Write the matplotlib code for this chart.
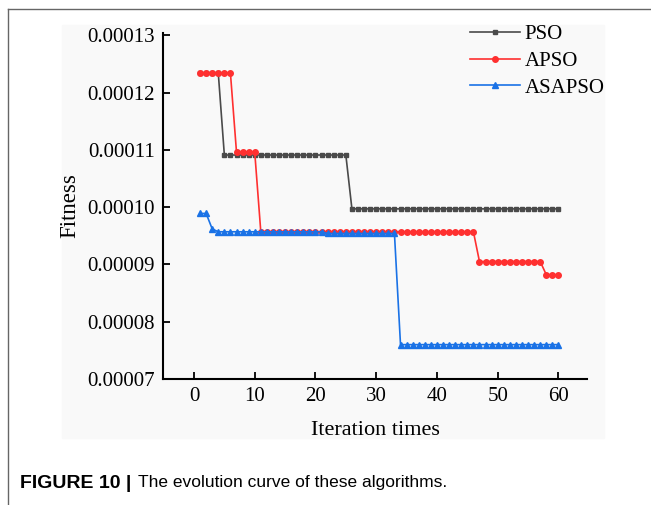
import matplotlib.pyplot as plt
from matplotlib.lines import Line2D
from matplotlib.patches import Rectangle

ITERATIONS = list(range(1, 61))

# fitness values, one per iteration (x 1e-5)
PSO = [
    12.34, 12.34, 12.34, 12.34, 10.91, 10.91, 10.91, 10.91, 10.91, 10.91,
    10.91, 10.91, 10.91, 10.91, 10.91, 10.91, 10.91, 10.91, 10.91, 10.91,
    10.91, 10.91, 10.91, 10.91, 10.91, 9.97, 9.97, 9.97, 9.97, 9.97,
    9.97, 9.97, 9.97, 9.97, 9.97, 9.97, 9.97, 9.97, 9.97, 9.97,
    9.97, 9.97, 9.97, 9.97, 9.97, 9.97, 9.97, 9.97, 9.97, 9.97,
    9.97, 9.97, 9.97, 9.97, 9.97, 9.97, 9.97, 9.97, 9.97, 9.97,
]
APSO = [
    12.34, 12.34, 12.34, 12.34, 12.34, 12.34, 10.96, 10.96, 10.96, 10.96,
    9.57, 9.57, 9.57, 9.57, 9.57, 9.57, 9.57, 9.57, 9.57, 9.57,
    9.57, 9.57, 9.57, 9.57, 9.57, 9.57, 9.57, 9.57, 9.57, 9.57,
    9.57, 9.57, 9.57, 9.57, 9.57, 9.57, 9.57, 9.57, 9.57, 9.57,
    9.57, 9.57, 9.57, 9.57, 9.57, 9.57, 9.05, 9.05, 9.05, 9.05,
    9.05, 9.05, 9.05, 9.05, 9.05, 9.05, 9.05, 8.82, 8.82, 8.82,
]
ASAPSO = [
    9.89, 9.89, 9.62, 9.57, 9.57, 9.57, 9.57, 9.57, 9.57, 9.57,
    9.57, 9.57, 9.57, 9.57, 9.57, 9.57, 9.57, 9.57, 9.57, 9.57,
    9.57, 9.54, 9.54, 9.54, 9.54, 9.54, 9.54, 9.54, 9.54, 9.54,
    9.54, 9.54, 9.54, 7.60, 7.60, 7.60, 7.60, 7.60, 7.60, 7.60,
    7.60, 7.60, 7.60, 7.60, 7.60, 7.60, 7.60, 7.60, 7.60, 7.60,
    7.60, 7.60, 7.60, 7.60, 7.60, 7.60, 7.60, 7.60, 7.60, 7.60,
]
SCALE = 1e-5

X_TICKS = [0, 10, 20, 30, 40, 50, 60]
Y_TICKS = [0.00007, 0.00008, 0.00009, 0.00010, 0.00011, 0.00012, 0.00013]
Y_TICK_LABELS = ['0.00007', '0.00008', '0.00009', '0.00010', '0.00011', '0.00012', '0.00013']

plt.rcParams['font.family'] = 'Liberation Serif'

W, H = 651, 505
fig = plt.figure(figsize=(W / 100, H / 100), dpi=100)

# light panel behind the plot and the thin page frame
fig.patches.append(Rectangle((62 / W, 1 - 438 / H), 542 / W, 413 / H,
                             transform=fig.transFigure, color='#f9f9f9', zorder=-5))
fig.lines.append(Line2D([8 / W, 8 / W], [0, 1 - 9 / H], transform=fig.transFigure,
                        color='#666666', lw=1.0))
fig.lines.append(Line2D([8 / W, 1], [1 - 9 / H, 1 - 9 / H], transform=fig.transFigure,
                        color='#666666', lw=1.0))

ax = fig.add_axes([163 / W, 1 - 379 / H, 424 / W, 346 / H])
ax.set_zorder(2)
ax.set_facecolor('none')

ax.plot(ITERATIONS, [v * SCALE for v in PSO], color='#4a4a4a', lw=1.2,
        marker='s', markersize=3.5, label='PSO')
ax.plot(ITERATIONS, [v * SCALE for v in APSO], color='#ff3030', lw=1.2,
        marker='o', markersize=4, label='APSO')
ax.plot(ITERATIONS, [v * SCALE for v in ASAPSO], color='#1a72e6', lw=1.2,
        marker='^', markersize=4, label='ASAPSO')

ax.set_xlim(-5.1, 64.7)
ax.set_ylim(0.00007, 0.0001304)
ax.set_xticks(X_TICKS)
ax.set_yticks(Y_TICKS)
ax.set_yticklabels(Y_TICK_LABELS)
ax.tick_params(direction='in', length=5, width=1.3, labelsize=15, pad=6)

for side in ['top', 'right']:
    ax.spines[side].set_visible(False)
for side in ['left', 'bottom']:
    ax.spines[side].set_linewidth(1.5)

ax.set_xlabel('Iteration times', fontsize=16)
ax.set_ylabel('Fitness', fontsize=16.5)
ax.xaxis.set_label_coords(0.5, -0.12)
ax.yaxis.set_label_coords(-0.196, 0.5)

ax.legend(loc='upper left', bbox_to_anchor=(460 / W, 1 - 14 / H),
          bbox_transform=fig.transFigure, frameon=False, fontsize=15,
          borderpad=0, handlelength=2.4, handletextpad=0.2, labelspacing=0.35)

fig.text(20 / W, 1 - 483 / H, 'FIGURE 10 |', family='Liberation Sans',
         fontweight='bold', fontsize=14, va='center')
fig.text(138 / W, 1 - 483 / H, 'The evolution curve of these algorithms.',
         family='Liberation Sans', fontsize=12.5, va='center')

plt.savefig('out.png', dpi=100)
